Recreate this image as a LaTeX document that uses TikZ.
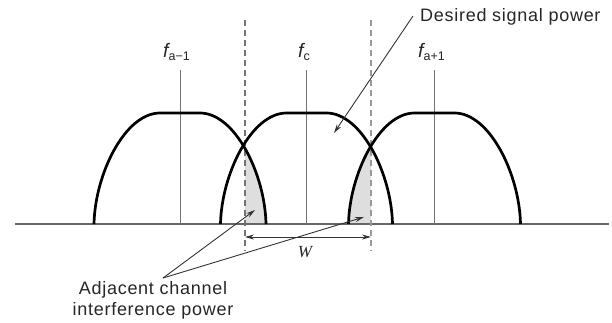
\documentclass[tikz,border=0pt]{standalone}
\usepackage{fontspec}
\setmainfont{Liberation Sans}
\newfontfamily\lblfont[LetterSpace=4]{Liberation Sans}
\newfontfamily\wfont{Liberation Serif}
\usetikzlibrary{arrows.meta}
\newcommand{\archpath}[1]{(#1-86,224) .. controls (#1-85,174) and (#1-55,113) .. (#1-20,113) -- (#1+20,113) .. controls (#1+55,113) and (#1+85,174) .. (#1+86,224)}
\newcommand{\fsub}[1]{{\itshape f}\raisebox{-0.2em}{\fontsize{12.5}{12.5}\selectfont #1}}
\tikzset{
  arch/.style={line width=2.7pt, black},
  cline/.style={line width=1pt, black!55},
  axis/.style={line width=1.5pt, black!60},
  bandline/.style={line width=1.2pt, dash pattern=on 6pt off 4pt},
  pointer/.style={line width=0.9pt, black!80, -{Stealth[length=9pt,width=5pt]}},
  dim/.style={line width=0.9pt, black!80, {Stealth[length=9pt,width=5pt]}-{Stealth[length=9pt,width=5pt]}},
  shade/.style={fill=black!13},
  lbl/.style={inner sep=0pt, text=black!85, font=\lblfont\fontsize{18}{21}\selectfont},
  flbl/.style={inner sep=0pt, anchor=base west, text=black!85, font=\fontsize{19.5}{21}\selectfont}
}
\begin{document}
\begin{tikzpicture}[x=1pt,y=-1pt]
\useasboundingbox (0,0) rectangle (612,322);
% shaded interference regions
\begin{scope}
  \clip (245,100) rectangle (400,224);
  \fill[shade] \archpath{180};
\end{scope}
\begin{scope}
  \clip (300,100) rectangle (371,224);
  \fill[shade] \archpath{434.5};
\end{scope}
% coordinates
\coordinate (a0) at (15,224);
\coordinate (a1) at (609,224);
\coordinate (v1t) at (180,70); \coordinate (v1b) at (180,224);
\coordinate (v2t) at (306,70); \coordinate (v2b) at (306,224);
\coordinate (v3t) at (434,70); \coordinate (v3b) at (434,224);
\coordinate (d1t) at (245,20); \coordinate (d1b) at (245,251);
\coordinate (d2t) at (371,20); \coordinate (d2b) at (371,251);
\coordinate (w1) at (245,237); \coordinate (w2) at (371,237);
% axis and centre lines
\draw[axis] (a0) -- (a1);
\draw[cline] (v1t) -- (v1b);
\draw[cline] (v2t) -- (v2b);
\draw[cline] (v3t) -- (v3b);
% band edges
\draw[bandline, black!55] (d1t) -- (d1b);
\draw[bandline, black!40] (d2t) -- (d2b);
% spectra
\draw[arch] \archpath{180};
\draw[arch] \archpath{306.5};
\draw[arch] \archpath{434.5};
% labels
\node[flbl] (fam1) at (163,57) {\fsub{a−1}};
\node[flbl] (fc) at (298,57) {\fsub{c}};
\node[flbl] (fap1) at (418,57) {\fsub{a+1}};
% W dimension
\draw[dim] (w1) -- (w2);
\node[inner sep=0pt, text=black!85, font=\wfont\itshape\fontsize{17}{17}\selectfont] (W) at (305,252) {W};
% desired signal power
\node[lbl, anchor=base west] (dsp) at (420,21) {Desired signal power};
\coordinate (dspS) at (413,16);
\coordinate (dspE) at (334,133);
\draw[pointer] (dspS) -- (dspE);
% adjacent channel interference power
\node[lbl, align=center] (acip) at (153,300) {Adjacent channel\\interference power};
\coordinate (acS) at (163,278);
\coordinate (acE1) at (255,210);
\coordinate (acE2) at (364,217);
\draw[pointer] (acS) -- (acE1);
\draw[pointer] (acS) -- (acE2);
\end{tikzpicture}
\end{document}
